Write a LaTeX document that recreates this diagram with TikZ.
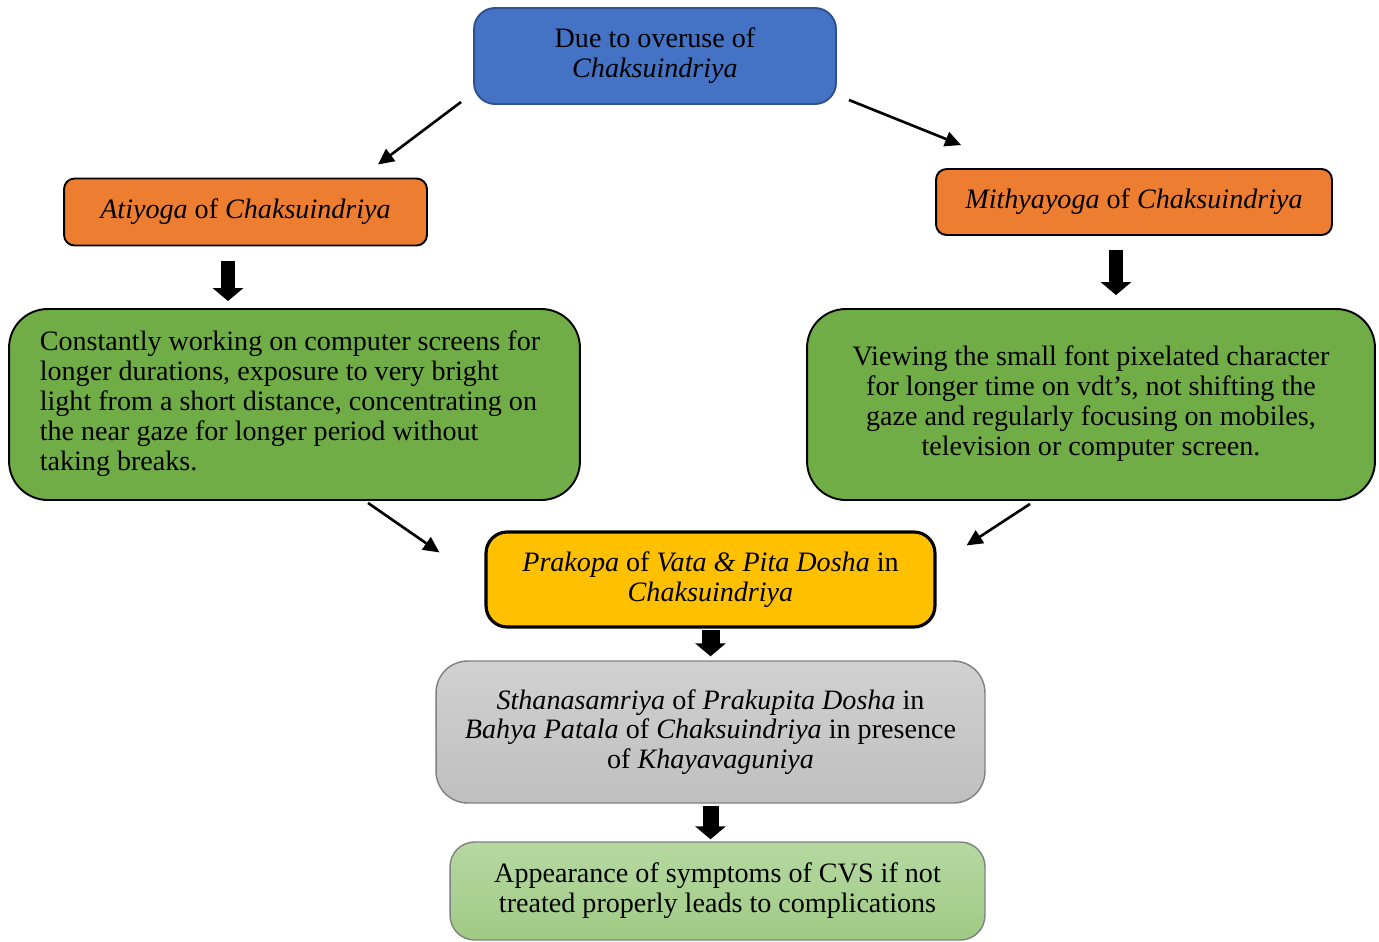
\documentclass[tikz,border=0pt]{standalone}
\usepackage{fontspec}
\setmainfont{Liberation Serif}
\usetikzlibrary{arrows.meta, positioning, calc}

\definecolor{causeblue}{HTML}{4472C4}
\definecolor{causeedge}{HTML}{2F528F}
\definecolor{yogaorange}{HTML}{ED7D31}
\definecolor{actgreen}{HTML}{70AD47}
\definecolor{doshayellow}{HTML}{FFC000}
\definecolor{seatgrey}{HTML}{C9C9C9}
\definecolor{resulttop}{HTML}{B6D8A1}
\definecolor{resultbot}{HTML}{9FCA84}

\begin{document}
\begin{tikzpicture}[
        x = 0.02cm, y = -0.02cm,
        every node/.style = {font = \fontsize{16}{17}\selectfont},
        box/.style = {draw = black, line width = 1.1pt, align = center, inner sep = 0pt},
        causebox/.style = {box, fill = causeblue, draw = causeedge, rounded corners = 12pt,
                           minimum width = 7.24cm, minimum height = 1.92cm},
        yogabox/.style = {box, fill = yogaorange, rounded corners = 6pt, minimum height = 1.34cm},
        actbox/.style = {box, fill = actgreen, rounded corners = 22pt, minimum height = 3.82cm},
        thinarrow/.style = {line width = 1.5pt, -{Triangle[length = 0.32cm, width = 0.3cm]}},
        blockarrow/.style = {line width = #1, -{Triangle[length = 0.26cm, width = 0.6cm]}},
        blockarrow/.default = 0.27cm
    ]

      \useasboundingbox (0,0) rectangle (1379,941);

      % boxes
      \node[causebox] (cause) at (655,56) {Due to overuse of\\ \textit{Chaksuindriya}};

      \node[yogabox, minimum width = 7.26cm] (atiyoga) at (245.5,212)
            {\textit{Atiyoga} of \textit{Chaksuindriya}};
      \node[yogabox, minimum width = 7.92cm, minimum height = 1.32cm] (mithya) at (1134,202)
            {\textit{Mithyayoga} of \textit{Chaksuindriya}};

      \node[actbox, minimum width = 11.42cm] (leftact) at (294.5,404.5)
            {\hspace*{-0.18cm}\begin{tabular}{@{}l@{}}Constantly working on computer screens for\\ longer durations, exposure to very bright\\
             light from a short distance, concentrating on\\ the near gaze for longer period without\\
             taking breaks.\end{tabular}};
      \node[actbox, minimum width = 11.36cm] (rightact) at (1091,404.5)
            {\raisebox{0.34cm}{\begin{tabular}{@{}c@{}}Viewing the small font pixelated character\\
             for longer time on vdt’s, not shifting the\\ gaze and regularly focusing on mobiles,\\
             television or computer screen.\end{tabular}}};

      \node[box, fill = doshayellow, line width = 1.8pt, rounded corners = 12pt,
            minimum width = 8.98cm, minimum height = 1.9cm] (prakopa) at (710.5,579.5)
            {\textit{Prakopa} of \textit{Vata \& Pita Dosha} in\\ \textit{Chaksuindriya}};

      \node[box, draw = gray, line width = 0.8pt, top color = seatgrey!85!white, bottom color = seatgrey!95!black,
            rounded corners = 18pt, minimum width = 10.98cm, minimum height = 2.84cm] (sthana) at (710.5,732)
            {\textit{Sthanasamriya} of \textit{Prakupita Dosha} in\\
             \textit{Bahya Patala} of \textit{Chaksuindriya} in presence\\ of \textit{Khayavaguniya}};

      \node[box, draw = gray, line width = 0.8pt, top color = resulttop, bottom color = resultbot,
            rounded corners = 14pt, minimum width = 10.7cm, minimum height = 1.96cm] (result) at (717.5,891)
            {Appearance of symptoms of CVS if not\\ treated properly leads to complications};

      % arrows
      \draw[thinarrow] ($(cause.south west)+(-12,-3)$) -- ($(atiyoga.north east)+(-50,-13)$);
      \draw[thinarrow] ($(cause.south east)+(12,-5)$) -- ($(mithya.north west)+(26,-23)$);

      \coordinate (atiout) at ($(atiyoga.south)+(-17.5,0)$);
      \coordinate (mithyaout) at ($(mithya.south)+(-18,0)$);
      \draw[blockarrow, shorten <= 0.3cm, shorten >= 0.14cm] (atiout) -- (atiout |- leftact.north);
      \draw[blockarrow, shorten <= 0.28cm, shorten >= 0.26cm] (mithyaout) -- (mithyaout |- rightact.north);

      \draw[thinarrow] ($(leftact.south)+(73.5,2)$) -- ($(prakopa.north west)+(-45,22)$);
      \draw[thinarrow] ($(rightact.south)+(-61,3)$) -- ($(prakopa.north east)+(30,15)$);

      \draw[blockarrow = 0.36cm, shorten <= 0.03cm, shorten >= 0.08cm] (prakopa.south) -- (sthana.north);
      \draw[blockarrow = 0.32cm, shorten <= 0.04cm, shorten >= 0.04cm] (sthana.south) -- (sthana.south |- result.north);

\end{tikzpicture}
\end{document}
